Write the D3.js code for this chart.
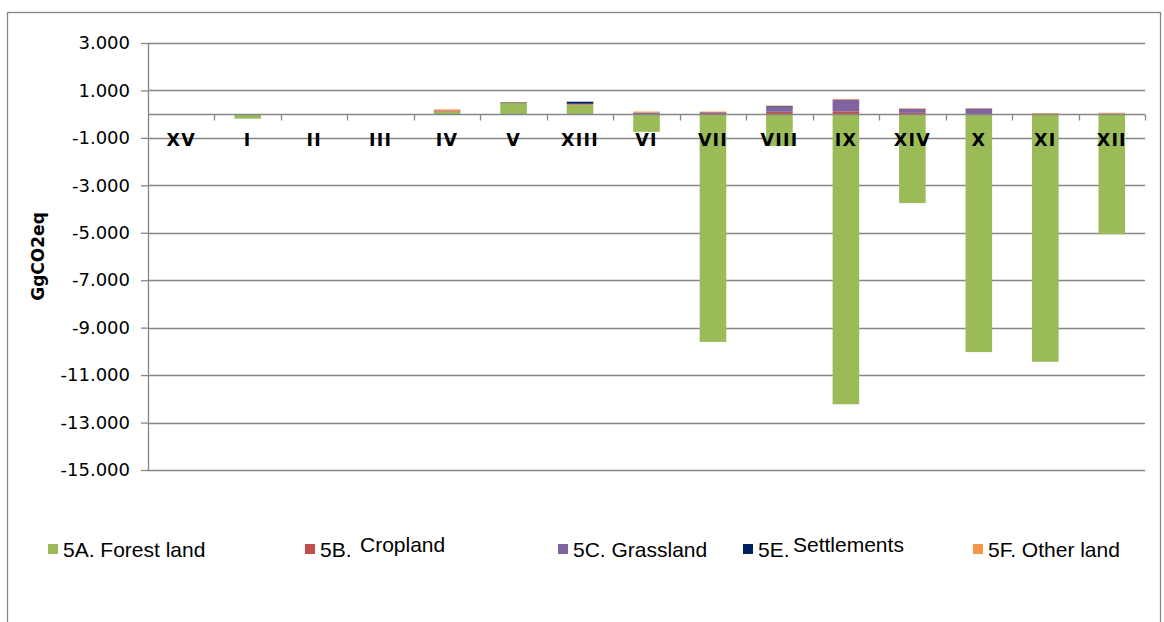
<!DOCTYPE html>
<html>
<head>
<meta charset="utf-8">
<script src="https://cdn.jsdelivr.net/npm/d3@7"></script>
<style>
  html, body { margin: 0; padding: 0; background: #fff; }
  svg { display: block; }
</style>
</head>
<body>
<svg id="chart" width="1164" height="622"></svg>
<script>
// ---- Data ----
const categories = ["XV","I","II","III","IV","V","XIII","VI","VII","VIII","IX","XIV","X","XI","XII"];
const forestLand   = [0, -190, 0, 0, 110, 465, 400, -745, -9600, -1340, -12230, -3750, -10030, -10440, -5060];
const cropland     = [0, 0, 0, 0, 50, 0, 40, 0, 60, 100, 120, 55, 0, 0, 20];
const grassland    = [0, 0, 0, 0, 0, 0, 0, 70, 30, 195, 500, 170, 240, 0, 0];
const settlements  = [0, 0, 0, 0, 0, 30, 85, 0, 0, 40, 0, 0, 0, 0, 0];
const otherLand    = [0, 0, 0, 0, 40, 20, 0, 40, 20, 25, 25, 25, 15, 40, 40];
const seriesKeys   = ["5A","5B","5C","5E","5F"];
const legendCodes  = ["5A.", "5B.", "5C.", "5E.", "5F."];
const legendNames  = ["Forest land", "Cropland", "Grassland", "Settlements", "Other land"];
const yTicks       = [3000, 1000, -1000, -3000, -5000, -7000, -9000, -11000, -13000, -15000];
const yTitle       = "GgCO2eq";

// ---- Styles ----
const colors = {"5A":"#9BBB59","5B":"#C0504D","5C":"#8064A2","5E":"#002060","5F":"#F79646"};
const gridColor = "#868686";

const svg = d3.select("#chart");

// outer frame
svg.append("rect").attr("x", 7.5).attr("y", 12.5).attr("width", 1153).attr("height", 640)
  .attr("fill", "none").attr("stroke", gridColor).attr("stroke-width", 1.3);

const plot = {left: 148, right: 1145, top: 43, bottom: 470};

const x = d3.scaleBand().domain(categories).range([plot.left, plot.right])
  .paddingInner(0.6).paddingOuter(0.3);
const y = d3.scaleLinear().domain([-15000, 3000]).range([plot.bottom, plot.top]);

const locale = d3.formatLocale({decimal: ",", thousands: ".", grouping: [3], currency: ["", ""], minus: "-"});
const fmt = locale.format(",.0f");

// gridlines
svg.append("g").selectAll("line").data(yTicks).join("line")
  .attr("x1", plot.left).attr("x2", plot.right)
  .attr("y1", d => Math.round(y(d)) + 0.5).attr("y2", d => Math.round(y(d)) + 0.5)
  .attr("stroke", gridColor).attr("stroke-width", 1.3);

// y axis
const yAxis = d3.axisLeft(y).tickValues(yTicks).tickSize(7).tickSizeOuter(0).tickPadding(11).tickFormat(fmt);
const yg = svg.append("g").attr("transform", `translate(${plot.left},0)`).call(yAxis);
yg.select(".domain").attr("stroke", gridColor).attr("stroke-width", 1.3);
yg.selectAll(".tick line").attr("stroke", gridColor).attr("stroke-width", 1.3);
yg.selectAll(".tick text").attr("font-family", "DejaVu Sans, Verdana, sans-serif")
  .attr("font-size", 18).attr("fill", "#000");

// stacked data
const rows = categories.map((c, i) => ({cat: c, "5A": forestLand[i], "5B": cropland[i], "5C": grassland[i], "5E": settlements[i], "5F": otherLand[i]}));
const stacked = d3.stack().keys(seriesKeys).offset(d3.stackOffsetDiverging)(rows);

svg.append("g").selectAll("g").data(stacked).join("g")
  .attr("fill", d => colors[d.key])
  .selectAll("rect").data(d => d).join("rect")
  .attr("x", d => x(d.data.cat))
  .attr("width", x.bandwidth())
  .attr("y", d => y(Math.max(d[0], d[1])))
  .attr("height", d => Math.abs(y(d[0]) - y(d[1])));

// category axis at zero
const zeroY = Math.round(y(0)) + 0.5;
svg.append("line").attr("x1", plot.left).attr("x2", plot.right).attr("y1", zeroY).attr("y2", zeroY)
  .attr("stroke", gridColor).attr("stroke-width", 1.3);
const bounds = d3.range(1, categories.length + 1).map(i => plot.left + i * x.step());
svg.append("g").selectAll("line").data(bounds).join("line")
  .attr("x1", d => Math.round(d) + 0.5).attr("x2", d => Math.round(d) + 0.5)
  .attr("y1", zeroY).attr("y2", zeroY + 6)
  .attr("stroke", gridColor).attr("stroke-width", 1.3);

// category labels
svg.append("g").selectAll("text").data(categories).join("text")
  .attr("x", d => x(d) + x.bandwidth() / 2)
  .attr("y", zeroY + 25)
  .attr("text-anchor", "middle").attr("dominant-baseline", "central")
  .attr("font-family", "DejaVu Sans, Verdana, sans-serif").attr("font-weight", "bold")
  .attr("font-size", 17.5).attr("letter-spacing", 1.2)
  .text(d => d);

// y title
svg.append("text").attr("transform", "translate(44,256.5) rotate(-90)")
  .attr("text-anchor", "middle")
  .attr("font-family", "DejaVu Sans, Verdana, sans-serif").attr("font-weight", "bold")
  .attr("font-size", 17).text(yTitle);

// legend
const legendX = [48, 305, 558, 743, 973];
const legendNameX = [null, 55, null, 50, null];   // raised name offset within item
const lg = svg.append("g").selectAll("g").data(seriesKeys).join("g")
  .attr("transform", (d, i) => `translate(${legendX[i]},0)`);
lg.append("rect").attr("x", 0).attr("y", 544).attr("width", 10).attr("height", 10)
  .attr("fill", d => colors[d]);
lg.each(function(d, i) {
  const g = d3.select(this);
  const t = g.append("text").attr("x", 15).attr("y", 557)
    .attr("font-family", "Liberation Sans, Arial, sans-serif").attr("font-size", 21).attr("fill", "#000");
  if (legendNameX[i] !== null) {
    t.text(legendCodes[i]);
    g.append("text").attr("x", legendNameX[i]).attr("y", 552)
      .attr("font-family", "Liberation Sans, Arial, sans-serif").attr("font-size", 21).attr("fill", "#000")
      .text(legendNames[i]);
  } else {
    t.text(legendCodes[i] + " " + legendNames[i]);
  }
});
</script>
</body>
</html>
